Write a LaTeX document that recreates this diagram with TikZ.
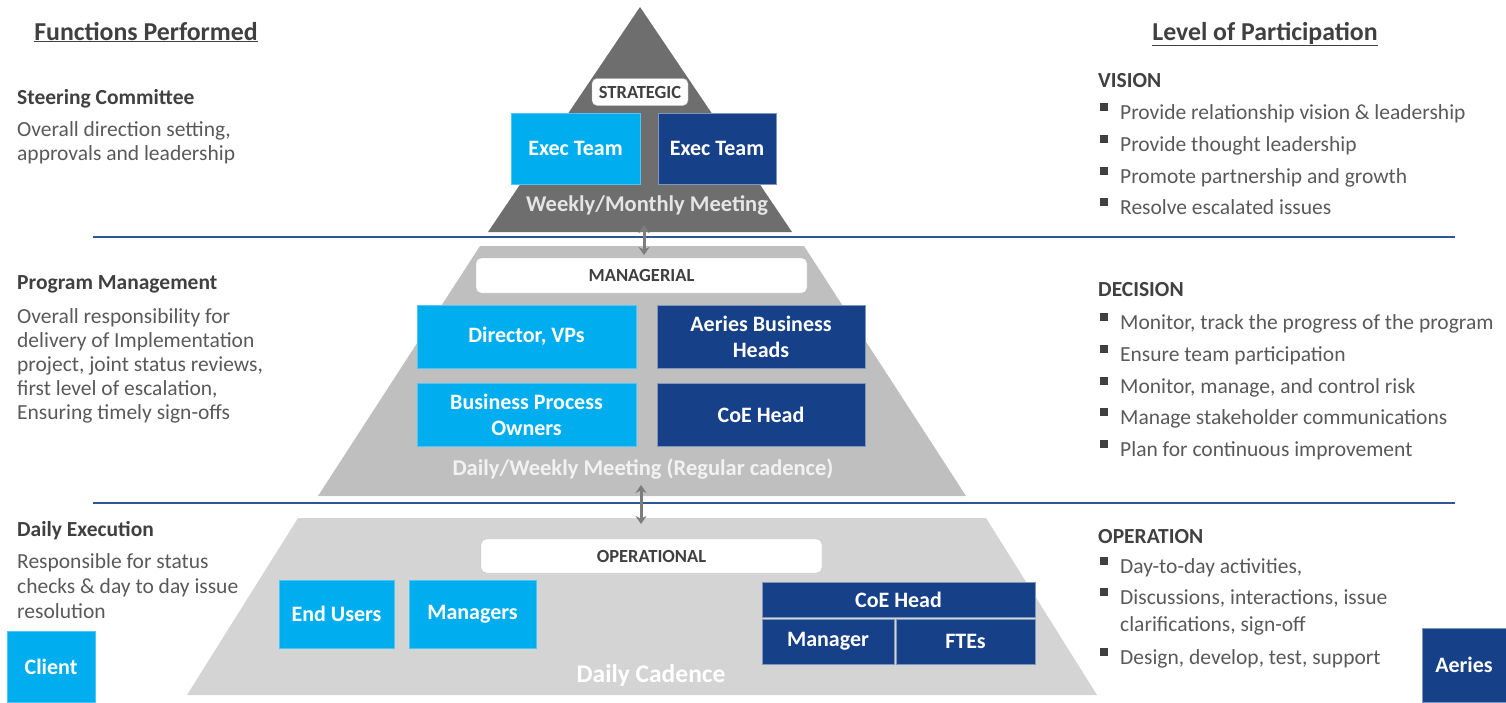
\documentclass[tikz,border=0pt]{standalone}
\usepackage{fontspec}
\setmainfont{Carlito}
\usetikzlibrary{arrows.meta}
\definecolor{lblue}{RGB}{0,174,239}
\definecolor{dblue}{RGB}{22,64,135}
\definecolor{gtop}{RGB}{110,110,110}
\definecolor{gmid}{RGB}{191,191,191}
\definecolor{gbot}{RGB}{212,212,212}
\definecolor{txtgray}{RGB}{89,89,89}
\definecolor{hdgray}{RGB}{64,64,64}
\definecolor{lineblue}{RGB}{46,85,151}
\definecolor{arrgray}{RGB}{125,125,125}
\newcommand\tl[4]{\node[txt,anchor=base west] (#1) at (#2,#3) {#4};}
\newcommand\hd[4]{\node[hdtxt,anchor=base west] (#1) at (#2,#3) {#4};}
\newcommand\bul[1]{\fill[hdgray] (1100,#1-15) rectangle (1108,#1-7);}
\begin{document}
\begin{tikzpicture}[x=1pt,y=-1pt,
  txt/.style={inner sep=0pt,text=txtgray,font=\fontsize{21.5}{24}\selectfont},
  hdtxt/.style={inner sep=0pt,text=hdgray,font=\fontsize{21.5}{24}\selectfont\bfseries},
  title/.style={inner sep=0pt,text=hdgray,font=\fontsize{25.8}{28}\selectfont\bfseries},
  lbox/.style={fill=lblue,draw=lblue!70!white,line width=0.6pt,text=white,align=center,inner sep=0pt,font=\fontsize{22}{26}\selectfont\bfseries},
  dbox/.style={fill=dblue,draw=dblue!55!white,line width=0.6pt,text=white,align=center,inner sep=0pt,font=\fontsize{22}{26}\selectfont\bfseries},
  tag/.style={fill=white,draw=black!25,line width=0.4pt,rounded corners=5pt,text=hdgray,inner sep=0pt,font=\fontsize{18.5}{20}\selectfont\bfseries},
  tiercap/.style={inner sep=0pt,font=\fontsize{22.5}{26}\selectfont\bfseries},
  sepline/.style={draw=lineblue,line width=1.6pt},
  darr/.style={draw=arrgray,line width=3pt,{Stealth[length=8pt,width=11pt]}-{Stealth[length=8pt,width=11pt]}}
]
\useasboundingbox (0,0) rectangle (1506,702);
% pyramid tiers
\fill[gtop] (640,7) -- (792,232) -- (488,232) -- cycle;
\fill[gmid] (480,246) -- (804,246) -- (966,496) -- (318,496) -- cycle;
\fill[gbot] (298,518) -- (986,518) -- (1097,695) -- (187,695) -- cycle;
% separator lines
\draw[sepline] (93,237) -- (1455,237);
\draw[sepline] (93,503) -- (1455,503);
% arrows
\coordinate (a1t) at (644,225);
\coordinate (a1b) at (644,255);
\coordinate (a2t) at (641,485);
\coordinate (a2b) at (641,524);
\draw[darr] (a1t) -- (a1b);
\draw[darr] (a2t) -- (a2b);
% titles
\node[title,anchor=base] (fp) at (146,40) {\underline{Functions Performed}};
\node[title,anchor=base] (lp) at (1265,40) {\underline{Level of Participation}};
% left texts
\hd{sc}{17}{104}{Steering Committee}
\tl{sc1}{17}{136}{Overall direction setting,}
\tl{sc2}{17}{160}{approvals and leadership}
\hd{pm}{17}{289}{Program Management}
\tl{pm1}{17}{323}{Overall responsibility for}
\tl{pm2}{17}{347}{delivery of Implementation}
\tl{pm3}{17}{371}{project, joint status reviews,}
\tl{pm4}{17}{395}{first level of escalation,}
\tl{pm5}{17}{419}{Ensuring timely sign-offs}
\hd{de}{17}{536}{Daily Execution}
\tl{de1}{17}{568}{Responsible for status}
\tl{de2}{17}{593}{checks \& day to day issue}
\tl{de3}{17}{618}{resolution}
% right texts
\hd{vi}{1098}{87}{VISION}
\bul{118}\tl{vi1}{1120}{119}{Provide relationship vision \& leadership}
\bul{150}\tl{vi2}{1120}{151}{Provide thought leadership}
\bul{182}\tl{vi3}{1120}{183}{Promote partnership and growth}
\bul{213}\tl{vi4}{1120}{214}{Resolve escalated issues}
\hd{dc}{1098}{296}{DECISION}
\bul{328}\tl{dc1}{1120}{329}{Monitor, track the progress of the program}
\bul{360}\tl{dc2}{1120}{361}{Ensure team participation}
\bul{392}\tl{dc3}{1120}{393}{Monitor, manage, and control risk}
\bul{423}\tl{dc4}{1120}{424}{Manage stakeholder communications}
\bul{455}\tl{dc5}{1120}{456}{Plan for continuous improvement}
\hd{op}{1098}{543}{OPERATION}
\bul{572}\tl{op1}{1120}{573}{Day-to-day activities,}
\bul{603}\tl{op2}{1120}{604}{Discussions, interactions, issue}
\tl{op3}{1120}{631}{clarifications, sign-off}
\bul{663}\tl{op4}{1120}{664}{Design, develop, test, support}
% top tier
\node[tag,minimum width=96pt,minimum height=27pt] (strat) at (640,92) {STRATEGIC};
\node[lbox,minimum width=129pt,minimum height=71pt] (ex1) at (575.5,148.5) {Exec Team};
\node[dbox,minimum width=118pt,minimum height=71pt] (ex2) at (717,148.5) {Exec Team};
\node[tiercap,text=black!10] (wm) at (647,205) {Weekly/Monthly Meeting};
% middle tier
\node[tag,minimum width=331pt,minimum height=35pt] (mgr) at (641.5,275.5) {MANAGERIAL};
\node[lbox,minimum width=219pt,minimum height=63pt] (dir) at (526.5,336.5) {Director, VPs};
\node[dbox,minimum width=208pt,minimum height=63pt] (abh) at (761,336.5) {Aeries Business\\Heads};
\node[lbox,minimum width=219pt,minimum height=63pt] (bpo) at (526.5,414.5) {Business Process\\Owners};
\node[dbox,minimum width=208pt,minimum height=63pt] (coe1) at (761,414.5) {CoE Head};
\node[tiercap,text=black!5] (dw) at (643,469) {Daily/Weekly Meeting (Regular cadence)};
% bottom tier
\node[tag,minimum width=341pt,minimum height=34pt] (oper) at (651.5,556) {OPERATIONAL};
\node[lbox,minimum width=115pt,minimum height=68pt] (eu) at (336.5,614) {End Users};
\node[lbox,minimum width=127pt,minimum height=68pt] (mg) at (472.5,614) {Managers};
\node[dbox,minimum width=273pt,minimum height=35pt] (coe2) at (898.5,599.5) {CoE Head};
\node[dbox,minimum width=132pt,minimum height=45pt] (man) at (828,641.5) {Manager};
\node[dbox,minimum width=139pt,minimum height=45pt] (fte) at (965.5,641.5) {FTEs};
\node[tiercap,text=white,font=\fontsize{25.5}{28}\selectfont\bfseries] (dcad) at (651,676) {Daily Cadence};
% legend boxes
\node[lbox,minimum width=88pt,minimum height=71pt] (client) at (51,666.5) {Client};
\node[dbox,minimum width=84pt,minimum height=74pt] (aeries) at (1464,665) {Aeries};
\end{tikzpicture}
\end{document}
